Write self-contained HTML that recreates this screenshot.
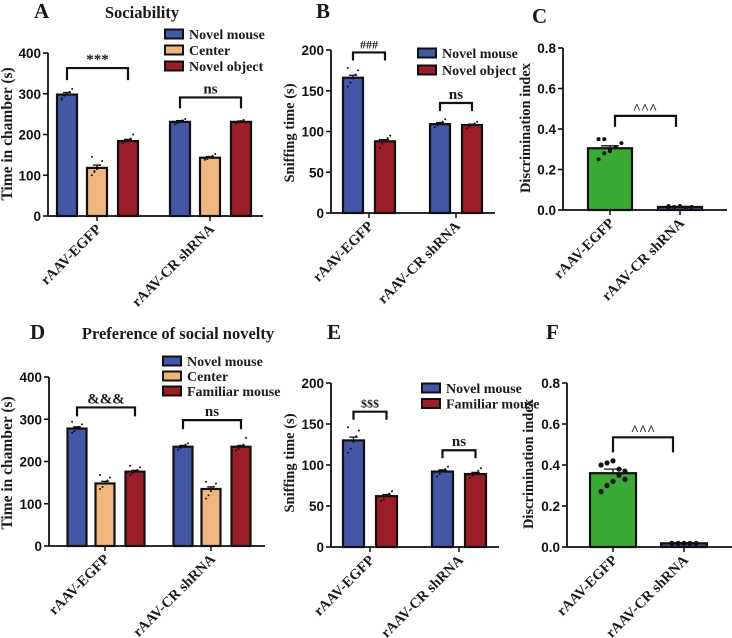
<!DOCTYPE html>
<html><head><meta charset="utf-8"><style>
html,body{margin:0;padding:0;background:#fff;}
svg{display:block;}
.tk{font:bold 13.5px "Liberation Sans",sans-serif;fill:#111;}
.sr{font-family:"Liberation Serif",serif;font-weight:bold;fill:#1a1a1a;}
</style></head><body>
<svg id="fig" width="732" height="638" viewBox="0 0 732 638" xmlns="http://www.w3.org/2000/svg"></svg>
<script>
// ---- data ----
const groupLabels = ["rAAV-EGFP","rAAV-CR shRNA"];
const aSeries = ["Novel mouse","Center","Novel object"];
const aMeans = [[298,118,184],[231,143,231]];
const aSem = [[5,7,4],[3,3,2]];
const aDots = [[[290,295,300,305,312,285,298,302],[100,108,115,125,135,145,110,120],[178,182,186,190,200,180,184]],[[225,228,232,235,238,230],[138,140,145,148,152,142],[228,230,233,236,229]]];
const aTicks = [0,100,200,300,400];
const bSeries = ["Novel mouse","Novel object"];
const bMeans = [[166,88],[109,108]];
const bSem = [[3,2],[2,1]];
const bDots = [[[155,160,165,170,175,178],[80,85,88,92,95,90]],[[105,107,110,112,115],[104,106,108,110,112]]];
const bTicks = [0,50,100,150,200];
const cMeans = [0.305,0.015];
const cSem = [0.012,0.003];
const cDots = [[0.25,0.28,0.30,0.31,0.33,0.35,0.35,0.29],[0.01,0.015,0.02,0.01,0.015,0.02]];
const cTicks = [0,0.2,0.4,0.6,0.8];
const dSeries = ["Novel mouse","Center","Familiar mouse"];
const dMeans = [[278,148,176],[235,135,235]];
const dSem = [[4,5,3],[3,5,3]];
const dDots = [[[268,272,278,282,288,294],[135,140,148,155,162,168],[168,172,176,180,186,190]],[[228,232,236,240,243],[112,120,130,140,148,152],[226,230,235,240,256]]];
const dTicks = [0,100,200,300,400];
const eSeries = ["Novel mouse","Familiar mouse"];
const eMeans = [[130,62],[92,89]];
const eSem = [[4,2],[2,2]];
const eDots = [[[115,120,128,135,142,146],[56,58,62,65,68]],[[86,89,92,95,98],[84,87,90,93,96]]];
const eTicks = [0,50,100,150,200];
const fMeans = [0.36,0.018];
const fSem = [0.02,0.003];
const fDots = [[0.27,0.30,0.32,0.35,0.37,0.40,0.41,0.42,0.38,0.33],[0.018,0.018,0.018,0.018,0.018,0.018]];
const fTicks = [0,0.2,0.4,0.6,0.8];

const NS="http://www.w3.org/2000/svg";
const svg=document.getElementById('fig');
function mk(tag,attrs,parent){const e=document.createElementNS(NS,tag);for(const k in attrs)e.setAttribute(k,attrs[k]);(parent||svg).appendChild(e);return e;}
const COL={blue:"#4456A6",orange:"#F0B67F",red:"#9B1D25",green:"#3AAA35",purple:"#5A3F8F"};

function panel(p){
  const g=mk('g',{});
  
  
  const y=v=>p.y0-(v/p.max)*(p.y0-p.yTop);
  const ya=mk('line',{x1:p.x0,y1:p.yTop,x2:p.x0,y2:p.y0,stroke:'#111','stroke-width':1.8},g);
  
  p.ticks.forEach(t=>{
    mk('line',{x1:p.x0-5,y1:y(t),x2:p.x0,y2:y(t),stroke:'#111','stroke-width':1.6},g);
    const tx=mk('text',{x:p.x0-7,y:y(t)+5,'text-anchor':'end',class:'tk'},g);
    tx.textContent=p.fmt(t);
    
  });
  p.groups.forEach((gc,gi)=>{
    p.means[gi].forEach((m,si)=>{
      const cx=gc+p.offsets[si];
      const r=mk('rect',{x:cx-p.bw/2,y:y(m),width:p.bw,height:p.y0-y(m),fill:p.colors[gi][si],stroke:'#111','stroke-width':2.2},g);
      
      const s=p.sems[gi][si];
      mk('line',{x1:cx,y1:y(m+s),x2:cx,y2:y(m),stroke:'#111','stroke-width':1.3},g);
      mk('line',{x1:cx-p.bw*0.2,y1:y(m+s),x2:cx+p.bw*0.2,y2:y(m+s),stroke:'#111','stroke-width':1.3},g);
      p.dots[gi][si].forEach((d,di)=>{
        const off=((di%5)-2)*p.bw*0.13;
        const c=mk('circle',{cx:cx+off,cy:y(d),r:p.dr,fill:'#111'},g);
        
      });
    });
    mk('line',{x1:gc,y1:p.y0,x2:gc,y2:p.y0+5,stroke:'#111','stroke-width':1.5},g);
    const lb=mk('text',{transform:`translate(${gc+5},${p.y0+14}) rotate(-45)`,'text-anchor':'end',class:'sr','font-size':14.5},g);
    lb.textContent=groupLabels[gi];
    
  });
  const xa=mk('line',{x1:p.x0,y1:p.y0,x2:p.xEnd,y2:p.y0,stroke:'#111','stroke-width':1.8},g);
  
  p.brackets.forEach(b=>{
    const x1=p.groups[b.g]+p.offsets[b.a], x2=p.groups[b.g]+p.offsets[b.b], by=y(b.v);
    const pl=mk('polyline',{points:`${x1},${by+b.leg} ${x1},${by} ${x2},${by} ${x2},${by+b.leg}`,fill:'none',stroke:'#111','stroke-width':2.2},g);
    
    const t=mk('text',{x:(x1+x2)/2,y:by-4,'text-anchor':'middle',class:'sr','font-size':b.fs||15},g);
    t.textContent=b.t;
    
  });
  if(p.legend){p.legend.items.forEach((it,i)=>{
    const ly=p.legend.y+i*p.legend.dy;
    const r=mk('rect',{x:p.legend.x,y:ly-4.5,width:18,height:9,fill:p.colors[0][i],stroke:'#111','stroke-width':2},g);
    
    const t=mk('text',{x:p.legend.x+24,y:ly+5,class:'sr','font-size':14},g);
    t.textContent=it;
    
  });}
  const yt=mk('text',{transform:`translate(${p.ytx},${p.yty}) rotate(-90)`,'text-anchor':'middle',class:'sr','font-size':p.ytfs||15.5},g);
  yt.textContent=p.ytitle;
  
  const L=mk('text',{x:p.lx,y:p.ly,class:'sr','font-size':21},g);
  L.textContent=p.letter;
  
  if(p.title){const T=mk('text',{x:p.tx,y:p.ly,'text-anchor':'middle',class:'sr','font-size':16.5},g);
    T.textContent=p.title;
    }
}
const f0=v=>String(v), f1=v=>v.toFixed(1);
const three=[[COL.blue,COL.orange,COL.red],[COL.blue,COL.orange,COL.red]];
const two=[[COL.blue,COL.red],[COL.blue,COL.red]];
const gp=[[COL.green],[COL.purple]];
panel({name:'panel-a',x0:48,xEnd:263,yTop:53,y0:216,max:400,ticks:aTicks,fmt:f0,groups:[97,210],offsets:[-30,0,31],bw:20,
  means:aMeans,sems:aSem,dots:aDots,colors:three,dr:1,
  brackets:[{g:0,a:0,b:2,v:363,leg:12,t:'***'},{g:1,a:0,b:2,v:291,leg:11,t:'ns'}],
  legend:{x:165,y:34,dy:16,items:aSeries},ytitle:'Time in chamber (s)',ytx:12,yty:134,letter:'A',lx:34,ly:18,title:'Sociability',tx:142});
panel({name:'panel-b',x0:331,xEnd:495,yTop:50,y0:213,max:200,ticks:bTicks,fmt:f0,groups:[369,456],offsets:[-16,16],bw:20,
  means:bMeans,sems:bSem,dots:bDots,colors:two,dr:1,
  brackets:[{g:0,a:0,b:1,v:197,leg:8,t:'###',fs:12},{g:1,a:0,b:1,v:135,leg:8,t:'ns'}],
  legend:{x:418,y:53,dy:17,items:bSeries},ytitle:'Sniffing time (s)',ytx:294,yty:133,ytfs:14.5,letter:'B',lx:316,ly:18});
panel({name:'panel-c',x0:563,xEnd:727,yTop:48,y0:210,max:0.8,ticks:cTicks,fmt:f1,groups:[610,680],offsets:[0],bw:44,
  means:[[cMeans[0]],[cMeans[1]]],sems:[[cSem[0]],[cSem[1]]],dots:[[cDots[0]],[cDots[1]]],colors:gp,dr:2,
  brackets:[],
  ytitle:'Discrimination index',ytx:530,yty:128,ytfs:14.5,letter:'C',lx:532,ly:23});
(function(){const y=v=>210-(v/0.8)*162;const by=y(0.465);
 const pl=mk('polyline',{points:`615,${by+11} 615,${by} 676,${by} 676,${by+11}`,fill:'none',stroke:'#111','stroke-width':2.2});
 
 const t=mk('text',{x:645,y:by-3,'text-anchor':'middle',class:'sr','font-size':14});t.textContent='^^^';
 })();
panel({name:'panel-d',x0:49,xEnd:265,yTop:377,y0:546,max:400,ticks:dTicks,fmt:f0,groups:[105,211],offsets:[-28,0,30],bw:19,
  means:dMeans,sems:dSem,dots:dDots,colors:three,dr:1,
  brackets:[{g:0,a:0,b:2,v:328,leg:9,t:'&&&'},{g:1,a:0,b:2,v:298,leg:9,t:'ns'}],
  legend:{x:163,y:361,dy:15,items:dSeries},ytitle:'Time in chamber (s)',ytx:12,yty:463,letter:'D',lx:30,ly:339,title:'Preference of social novelty',tx:178});
panel({name:'panel-e',x0:331,xEnd:499,yTop:383,y0:547,max:200,ticks:eTicks,fmt:f0,groups:[370,459],offsets:[-16.5,16.5],bw:21,
  means:eMeans,sems:eSem,dots:eDots,colors:two,dr:1,
  brackets:[{g:0,a:0,b:1,v:165,leg:8,t:'$$$',fs:12},{g:1,a:0,b:1,v:118,leg:8,t:'ns'}],
  legend:{x:422,y:388,dy:15.5,items:eSeries},ytitle:'Sniffing time (s)',ytx:294,yty:463,ytfs:14.5,letter:'E',lx:327,ly:339});
panel({name:'panel-f',x0:567,xEnd:732,yTop:383,y0:547,max:0.8,ticks:fTicks,fmt:f1,groups:[613,684],offsets:[0],bw:46,
  means:[[fMeans[0]],[fMeans[1]]],sems:[[fSem[0]],[fSem[1]]],dots:[[fDots[0]],[fDots[1]]],colors:gp,dr:2.6,
  brackets:[],ytitle:'Discrimination index',ytx:533,yty:464,ytfs:14.5,letter:'F',lx:546,ly:339});
(function(){const y=v=>547-(v/0.8)*164;const by=y(0.535);
 const pl=mk('polyline',{points:`613,${by+15} 613,${by} 673,${by} 673,${by+15}`,fill:'none',stroke:'#111','stroke-width':2.2});
 
 const t=mk('text',{x:643,y:by-3,'text-anchor':'middle',class:'sr','font-size':14});t.textContent='^^^';
 })();
</script>
</body></html>
